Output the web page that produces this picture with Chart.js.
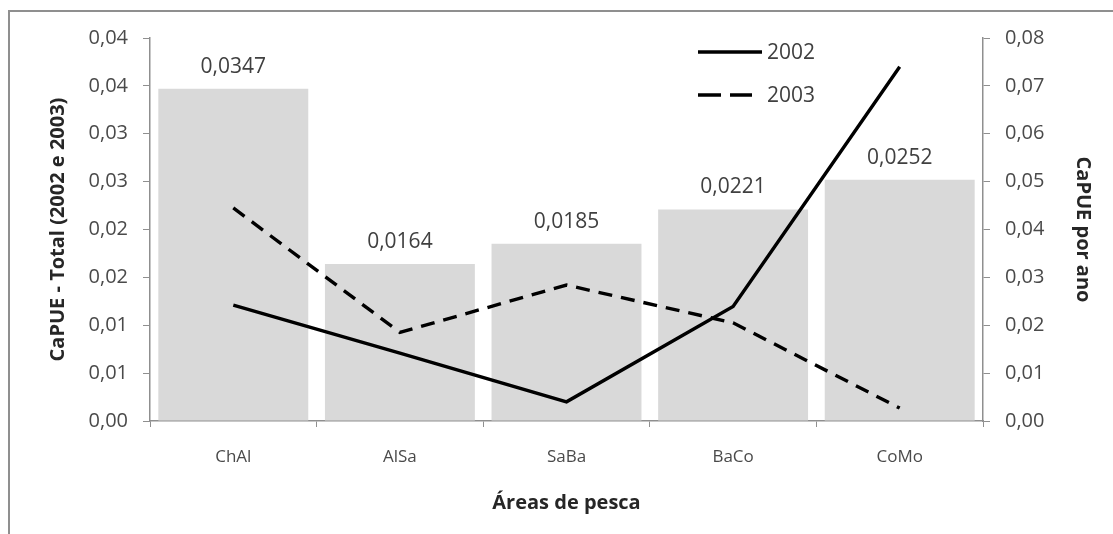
<!DOCTYPE html>
<html><head><meta charset="utf-8">
<script src="https://cdn.jsdelivr.net/npm/chart.js@4.4.1/dist/chart.umd.min.js"></script>
<style>
html,body{margin:0;padding:0;background:#fff;}
#wrap{position:relative;width:1113px;height:534px;overflow:hidden;background:#fff;}
#frame{position:absolute;left:8px;top:10px;width:1200px;height:600px;border:2px solid #8f8f8f;box-sizing:border-box;}
canvas{position:absolute;left:0;top:0;}
</style></head><body>
<div id="wrap"><div id="frame"></div><canvas id="c" width="1113" height="534"></canvas></div>
<script>
const categories = ['ChAl','AlSa','SaBa','BaCo','CoMo'];
const totalValues = [0.0347,0.0164,0.0185,0.0221,0.0252];
const totalLabels = ['0,0347','0,0164','0,0185','0,0221','0,0252'];
const series2002 = [0.0242,0.0142,0.0040,0.0239,0.0740];
const series2003 = [0.0445,0.0185,0.0284,0.0205,0.0027];
const leftTickLabels = ['0,00','0,01','0,01','0,02','0,02','0,03','0,03','0,04','0,04'];
const rightTickLabels = ['0,00','0,01','0,02','0,03','0,04','0,05','0,06','0,07','0,08'];
const seriesNames = ['2002','2003'];

const FONT = "'Open Sans', sans-serif";
const AXIS = '#8f8f8f';
const TICKC = '#4a4a4a';

const barLabelPlugin = {
  id:'barLabels',
  afterDatasetsDraw(chart){
    const ctx = chart.ctx;
    const meta = chart.getDatasetMeta(2);
    ctx.save();
    ctx.font = "21px " + FONT;
    ctx.fillStyle = '#404040';
    ctx.textAlign = 'center';
    ctx.textBaseline = 'alphabetic';
    meta.data.forEach((el,i)=>{ ctx.fillText(totalLabels[i], el.x, el.y - 16); });
    ctx.restore();
  }
};
const legendPlugin = {
  id:'innerLegend',
  afterDraw(chart){
    const ctx = chart.ctx;
    ctx.save();
    ctx.font = "21px " + FONT;
    ctx.fillStyle = '#404040';
    ctx.textBaseline = 'middle';
    ctx.textAlign = 'left';
    const items = [{y:52, dash:[]},{y:95, dash:[23,9]}];
    items.forEach((it,i)=>{
      const ds = chart.data.datasets[i];
      ctx.strokeStyle = ds.borderColor;
      ctx.lineWidth = ds.borderWidth;
      ctx.setLineDash(it.dash);
      ctx.beginPath(); ctx.moveTo(698,it.y); ctx.lineTo(i===0?762:752,it.y); ctx.stroke();
      ctx.setLineDash([]);
      ctx.fillText(ds.label, 767, it.y+1);
    });
    ctx.restore();
  }
};

new Chart(document.getElementById('c'), {
  type:'bar',
  data:{
    labels: categories,
    datasets:[
      {type:'line', label:seriesNames[0], data:series2002, yAxisID:'y1', borderColor:'#000', borderWidth:3.4, pointRadius:0, tension:0, order:0, borderCapStyle:'butt'},
      {type:'line', label:seriesNames[1], data:series2003, yAxisID:'y1', borderColor:'#000', borderWidth:3.4, borderDash:[14,9], pointRadius:0, tension:0, order:1, borderCapStyle:'butt'},
      {type:'bar', label:'Total', data:totalValues, yAxisID:'y', backgroundColor:'#d9d9d9', borderWidth:0, barPercentage:0.9, categoryPercentage:1, order:2}
    ]
  },
  options:{
    responsive:false, animation:false, devicePixelRatio:1,
    layout:{padding:{left:8, right:10, top:38, bottom:0}},
    plugins:{legend:{display:false}, tooltip:{enabled:false}},
    scales:{
      x:{
        offset:true,
        grid:{display:true, drawOnChartArea:false, drawTicks:true, tickLength:6, color:AXIS, offset:true},
        border:{display:true, color:AXIS, width:1.5},
        ticks:{font:{family:FONT, size:17}, color:TICKC, padding:20},
        title:{display:true, text:'Áreas de pesca', font:{family:FONT, size:20, weight:'bold'}, color:'#262626', padding:{top:0,bottom:19}},
        afterFit(s){ s.height = 113; }
      },
      y:{
        position:'left', min:0, max:0.04,
        grid:{display:true, drawOnChartArea:false, drawTicks:true, tickLength:7, color:AXIS},
        border:{display:true, color:AXIS, width:1.5},
        ticks:{stepSize:0.005, font:{family:FONT, size:20}, color:TICKC, padding:15, callback:(v,i)=>leftTickLabels[i]},
        title:{display:true, text:'CaPUE - Total (2002 e 2003)', font:{family:FONT, size:20, weight:'bold'}, color:'#262626', padding:{top:38,bottom:0}},
        afterFit(s){ s.width = 142; }
      },
      y1:{
        position:'right', min:0, max:0.08,
        grid:{display:true, drawOnChartArea:false, drawTicks:true, tickLength:7, color:AXIS},
        border:{display:true, color:AXIS, width:1.5},
        ticks:{stepSize:0.01, font:{family:FONT, size:20}, color:TICKC, padding:15, callback:(v,i)=>rightTickLabels[i]},
        title:{display:true, text:'CaPUE por ano', font:{family:FONT, size:20, weight:'bold'}, color:'#262626', padding:{top:8,bottom:0}},
        afterFit(s){ s.width = 120; }
      }
    }
  },
  plugins:[barLabelPlugin, legendPlugin]
});
</script>
</body></html>
